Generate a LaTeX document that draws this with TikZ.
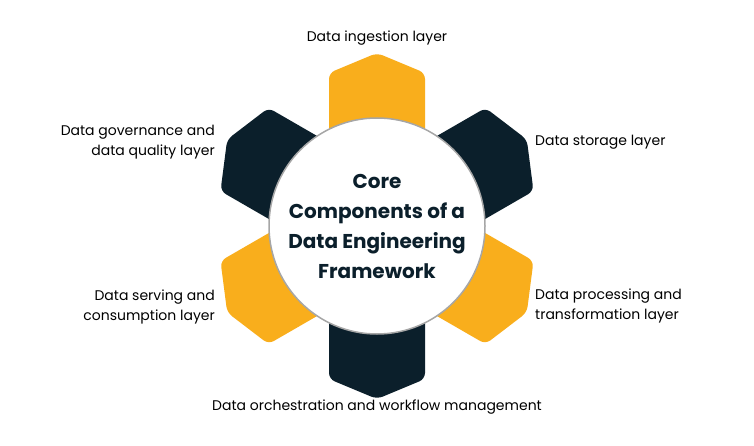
\documentclass[tikz,border=0pt]{standalone}
\usepackage{fontspec}
\setmainfont{Poppins}
\definecolor{yel}{HTML}{F9AE1C}
\definecolor{drk}{HTML}{0B1F2B}
\begin{document}
\begin{tikzpicture}[x=1pt,y=-1pt,
  petal/.style={rounded corners=6pt},
  lbl/.style={font=\fontsize{14}{20}\selectfont,text=black,inner sep=0pt}]
\useasboundingbox (0,0) rectangle (754,446);
\fill[white] (0,0) rectangle (754,446);
\coordinate (c) at (377,226);
\foreach \a/\col in {0/yel,60/drk,120/yel,180/drk,240/yel,300/drk}{
  \fill[\col,petal,rotate around={\a:(c)}] ([shift={(-48,0)}]c) -- ([shift={(-48,-153)}]c) -- ([shift={(0,-173)}]c) -- ([shift={(48,-153)}]c) -- ([shift={(48,0)}]c) -- cycle;
}
\node[circle,fill=white,draw=gray!70,line width=1.5pt,minimum size=216pt,inner sep=0pt] (core) at (c) {};
\node[font=\fontsize{20}{30}\selectfont\bfseries,text=drk,align=center] (title) at (c) {Core\\Components of a\\Data Engineering\\Framework};
\node[lbl] (l1) at (377,38) {Data ingestion layer};
\node[lbl,anchor=west] (l2) at (535,142) {Data storage layer};
\node[lbl,anchor=west,align=left] (l3) at (535,306) {Data processing and\\transformation layer};
\node[lbl] (l4) at (377,407) {Data orchestration and workflow management};
\node[lbl,anchor=east,align=right] (l5) at (215,307) {Data serving and\\consumption layer};
\node[lbl,anchor=east,align=right] (l6) at (215,142) {Data governance and\\data quality layer};
\end{tikzpicture}
\end{document}
